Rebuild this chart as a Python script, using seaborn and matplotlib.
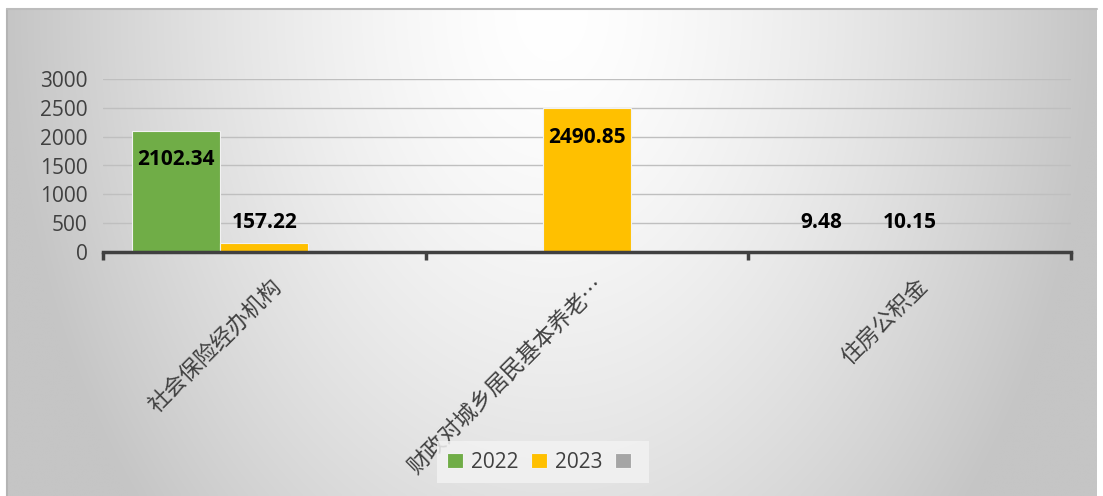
import numpy as np
import pandas as pd
import matplotlib
matplotlib.use("Agg")
import matplotlib.pyplot as plt
import seaborn as sns
from matplotlib.patches import Patch
from matplotlib.transforms import ScaledTranslation

# ---------------- data ----------------
categories = ["社会保险经办机构", "财政对城乡居民基本养老…", "住房公积金"]
series_keys = ["2022", "2023", "系列3"]
legend_labels = ["2022", "2023", ""]
values_2022 = [2102.34, np.nan, 9.48]
values_2023 = [157.22, 2490.85, 10.15]
values_s3 = [np.nan, np.nan, np.nan]
yticks = [0, 500, 1000, 1500, 2000, 2500, 3000]
colors = ["#70AD47", "#FFC000", "#A5A5A5"]

df = pd.DataFrame({
    "category": categories * 3,
    "series": np.repeat(series_keys, len(categories)),
    "value": values_2022 + values_2023 + values_s3,
})

sns.set_style("white")
plt.rcParams["font.family"] = ["Open Sans", "Noto Sans CJK SC", "DejaVu Sans"]

W, H = 1103, 496
fig = plt.figure(figsize=(W / 100, H / 100), dpi=100, facecolor="white")

# ---------------- gradient background ----------------
bg = fig.add_axes([7 / W, 0, 1090 / W, 487 / H])
gx, gy = np.meshgrid(np.linspace(0, 1, 400), np.linspace(0, 1, 200))
dx = (gx - 0.5) / 0.5
d = np.sqrt(dx ** 2 + 0.4 * gy ** 2)
d = np.clip(d, 0, 1)
shade = (255 - 58 * d ** 1.5) / 255.0
img = np.dstack([shade, shade, shade])
bg.imshow(img, aspect="auto", extent=[0, 1, 1, 0], interpolation="bilinear")
bg.set_xlim(0, 1)
bg.set_ylim(1, 0)
bg.plot([0, 0], [0, 1], color="#b4b4b4", lw=1.5, transform=bg.transAxes, clip_on=False)
bg.plot([0, 1], [1, 1], color="#bcbcbc", lw=1.5, transform=bg.transAxes, clip_on=False)
bg.set_axis_off()

# ---------------- main axes ----------------
ax = fig.add_axes([103 / W, (H - 252) / H, 968 / W, 173 / H])
ax.set_facecolor("none")

sns.barplot(data=df, x="category", y="value", hue="series",
            order=categories, hue_order=series_keys, palette=colors,
            errorbar=None, width=0.82, saturation=1, legend=False,
            edgecolor="#f2f2f2", linewidth=0.8, ax=ax)

ax.set_xlim(-0.5, 2.5)
ax.set_ylim(0, 3000)
ax.set_yticks(yticks)
ax.set_yticklabels([str(t) for t in yticks])
ax.yaxis.grid(True, color="#bfbfbf", linewidth=1)
ax.xaxis.grid(False)
ax.set_axisbelow(True)
for s in ["left", "right", "top"]:
    ax.spines[s].set_visible(False)
ax.spines["bottom"].set_color("#404040")
ax.spines["bottom"].set_linewidth(2.5)
ax.spines["bottom"].set_zorder(5)

ax.tick_params(axis="y", length=0, pad=11, labelsize=15, labelcolor="#404040")
ax.set_xticks(range(len(categories)))
ax.set_xticks([-0.5, 0.5, 1.5, 2.5], minor=True)
ax.tick_params(axis="x", which="major", length=0, pad=22)
ax.tick_params(axis="x", which="minor", bottom=True, length=6, width=2.5,
               color="#404040", direction="out")
ax.set_xticklabels(categories, rotation=45, ha="right", va="center",
                   rotation_mode="anchor", fontsize=16,
                   family="Noto Sans CJK SC", color="#404040")
offset = ScaledTranslation(14 / 100, 0, fig.dpi_scale_trans)
for lab in ax.get_xticklabels():
    lab.set_transform(lab.get_transform() + offset)
ax.set_xlabel("")
ax.set_ylabel("")

# ---------------- data labels ----------------
for cont in ax.containers:
    for patch in cont.patches:
        h = patch.get_height()
        if not np.isfinite(h) or h == 0:
            continue
        xc = patch.get_x() + patch.get_width() / 2
        if h > 1000:
            ax.annotate(f"{h:.2f}", xy=(xc, h), xytext=(0, -29),
                        textcoords="offset pixels", ha="center", va="center",
                        fontsize=15, fontweight="bold", color="black",
                        zorder=6)
        else:
            ax.annotate(f"{h:.2f}", xy=(xc, 0), xytext=(0, 30),
                        textcoords="offset pixels", ha="center", va="center",
                        fontsize=15, fontweight="bold", color="black",
                        zorder=6)

# ---------------- legend ----------------
handles = [Patch(facecolor=c, edgecolor="#f2f2f2", linewidth=0.8) for c in colors]
leg = fig.legend(handles, legend_labels, loc="center", bbox_to_anchor=(543 / W, (H - 462) / H),
                 ncol=3, frameon=True, fontsize=15, handlelength=0.75, handleheight=0.75,
                 handletextpad=0.4, columnspacing=0.6, borderpad=0.5)
leg.get_frame().set_facecolor("#f2f2f2")
leg.get_frame().set_alpha(0.85)
leg.get_frame().set_edgecolor("none")
leg.get_frame().set_boxstyle("square", pad=0)
for t in leg.get_texts():
    t.set_color("#404040")

fig.savefig("out.png", dpi=100)
